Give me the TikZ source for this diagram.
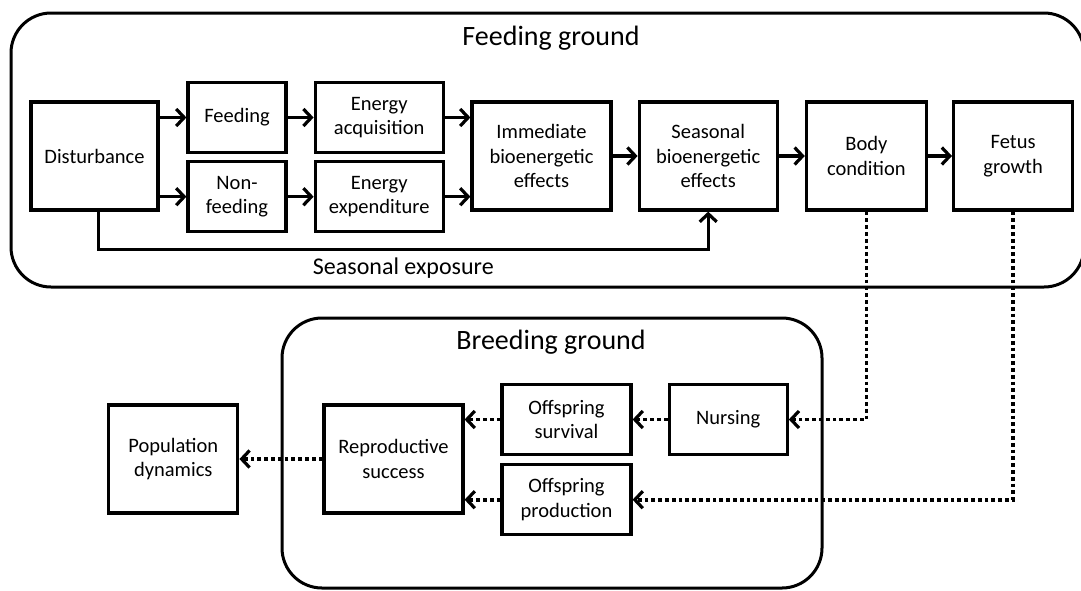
\documentclass[tikz,border=0pt]{standalone}
\usepackage{fontspec}
\setmainfont{Carlito}
\usetikzlibrary{arrows.meta,positioning}

\begin{document}
\begin{tikzpicture}[x=1pt,y=-1pt,
    box/.style={draw,line width=3.2pt,align=center,inner sep=2pt,
                font=\fontsize{20.5}{24.5}\selectfont},
    wide/.style={box,minimum width=#1,minimum height=108pt},
    half/.style={box,minimum width=#1,minimum height=70pt},
    arr/.style={line width=3.2pt,-{Straight Barb[length=8pt,width=17pt]}},
    dotarr/.style={line width=3.8pt,dash pattern=on 3.8pt off 3pt,
                   -{Straight Barb[length=8pt,width=17pt,line width=3.2pt]}},
    frame/.style={line width=3pt,rounded corners=40pt},
    title/.style={font=\fontsize{28}{32}\selectfont}]
    \useasboundingbox (0,0) rectangle (1081,590);

    % grounds
    \draw[frame] (11,13) rectangle (1084,287);
    \draw[frame] (282,318) rectangle (822,588);
    \node[title] (fg) at (551,38)  {Feeding ground};
    \node[title] (bg) at (551,342) {Breeding ground};

    % feeding ground
    \node[wide=127pt] (dist)  at (94.5,156)                {Disturbance};
    \node[half=98pt]  (feed)  at (237,117.5)               {Feeding};
    \node[half=98pt]  (nonf)  [below=6pt of feed]          {Non-\\feeding};
    \node[half=128pt] (acq)   [right=26pt of feed]         {Energy\\acquisition};
    \node[half=128pt] (exp)   [right=26pt of nonf]         {Energy\\expenditure};
    \node[wide=139pt] (imm)   at (541.5,156)               {Immediate\\bioenergetic\\effects};
    \node[wide=138pt] (seas)  [right=25pt of imm]          {Seasonal\\bioenergetic\\effects};
    \node[wide=120pt] (body)  [right=26pt of seas]         {Body\\condition};
    \node[wide=119pt] (fetus) [right=24pt of body]         {Fetus\\growth};

    % breeding ground
    \node[wide=139pt] (repro) at (393.5,459)               {Reproductive\\success};
    \node[wide=129pt] (pop)   [left=83pt of repro]         {Population\\dynamics};
    \node[half=129pt] (surv)  at (566.5,419.5)             {Offspring\\survival};
    \node[half=129pt] (prod)  [below=7pt of surv]          {Offspring\\production};
    \node[half=118pt] (nurs)  [right=35pt of surv]         {Nursing};

    \path[arr]  (dist.east |- feed) edge (feed)
                (dist.east |- nonf) edge (nonf)
                (feed)  edge (acq)
                (nonf)  edge (exp)
                (acq)   edge (imm.west |- acq)
                (exp)   edge (imm.west |- exp)
                (imm)   edge (seas)
                (seas)  edge (body)
                (body)  edge (fetus)
                ;
    \draw[arr] ([xshift=4pt]dist.south) -- ++(0,38)
        -| node[pos=0.25,below=3pt,font=\fontsize{24}{28}\selectfont] {Seasonal exposure} (seas.south);

    \draw[dotarr] (body.south)  |- (nurs.east);
    \draw[dotarr] (fetus.south) |- (prod.east);
    \path[dotarr] (nurs)  edge (surv)
                  (surv)  edge (repro.east |- surv)
                  (prod)  edge (repro.east |- prod)
                  (repro) edge (pop)
                  ;
\end{tikzpicture}
\end{document}
